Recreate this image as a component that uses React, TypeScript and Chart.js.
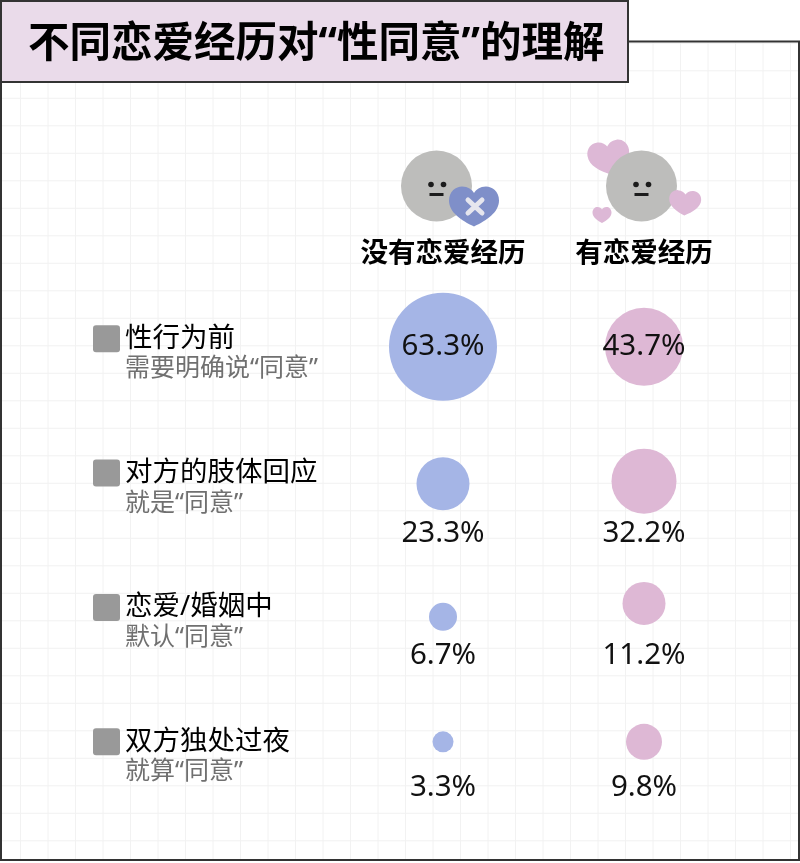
import React, { useEffect, useRef } from "react";
import { Chart, registerables } from "chart.js";

Chart.register(...registerables);

const titleText = "不同恋爱经历对“性同意”的理解";
const groups = ["没有恋爱经历", "有恋爱经历"];
const rowLabels = ["性行为前", "对方的肢体回应", "恋爱/婚姻中", "双方独处过夜"];
const rowSubLabels = ["需要明确说“同意”", "就是“同意”", "默认“同意”", "就算“同意”"];
const noExperience = [63.3, 23.3, 6.7, 3.3];
const hasExperience = [43.7, 32.2, 11.2, 9.8];
// bubble sizes (third bubble dimension)
const noExperienceR = [54, 26.5, 14, 10.5];
const hasExperienceR = [39, 32.5, 21.5, 18];
// small row-relative vertical nudges
const noExperienceNudge = [0.06, 0.08, 0.07, 0];
const hasExperienceNudge = [0.06, 0.06, -0.03, 0];

const CJK = '"Noto Sans CJK SC", sans-serif';
const LATIN_CJK = '"Noto Sans", "Noto Sans CJK SC", sans-serif';
const valueDrop = [8, 60.5, 48.5, 45.5];

function heart(ctx: CanvasRenderingContext2D, x: number, y: number, w: number, h: number, rot = 0) {
  ctx.save();
  ctx.translate(x, y);
  ctx.rotate(rot);
  ctx.scale(w / 100, h / 100);
  ctx.beginPath();
  ctx.moveTo(0, 50);
  ctx.bezierCurveTo(-25, 35, -50, 15, -50, -15);
  ctx.bezierCurveTo(-50, -38, -36, -50, -24, -50);
  ctx.bezierCurveTo(-12, -50, -4, -42, 0, -34);
  ctx.bezierCurveTo(4, -42, 12, -50, 24, -50);
  ctx.bezierCurveTo(36, -50, 50, -38, 50, -15);
  ctx.bezierCurveTo(50, 15, 25, 35, 0, 50);
  ctx.closePath();
  ctx.fill();
  ctx.restore();
}

function face(ctx: CanvasRenderingContext2D, x: number, y: number) {
  ctx.fillStyle = "#BDBDBB";
  ctx.beginPath();
  ctx.arc(x, y, 35.5, 0, Math.PI * 2);
  ctx.fill();
  ctx.fillStyle = "#1c1c1c";
  for (const dx of [-5.5, 7]) {
    ctx.beginPath();
    ctx.arc(x + dx, y - 1.5, 2.8, 0, Math.PI * 2);
    ctx.fill();
  }
  ctx.fillRect(x - 7, y + 7, 14, 3);
}

const decorPlugin = {
  id: "decor",
  beforeDraw(chart: any) {
    const ctx: CanvasRenderingContext2D = chart.ctx;
    ctx.save();
    ctx.fillStyle = "#ffffff";
    ctx.fillRect(0, 0, 800, 863);
    ctx.strokeStyle = "#F2F2F2";
    ctx.lineWidth = 1;
    ctx.beginPath();
    for (let x = 20.5; x < 800; x += 27.5) {
      ctx.moveTo(x, 42);
      ctx.lineTo(x, 859);
    }
    for (let y = 43.3; y < 860; y += 27.5) {
      ctx.moveTo(2, y);
      ctx.lineTo(799, y);
    }
    ctx.stroke();
    ctx.strokeStyle = "#333333";
    ctx.lineWidth = 2;
    ctx.strokeRect(1, 41.5, 798, 818.5);
    ctx.fillStyle = "#EADBEA";
    ctx.fillRect(1, 1, 627, 81);
    ctx.strokeRect(1, 1, 627, 81);
    ctx.fillStyle = "#000000";
    ctx.font = `bold 41.5px ${LATIN_CJK}`;
    ctx.textAlign = "left";
    ctx.textBaseline = "middle";
    ctx.fillText(titleText, 28, 45);

    ctx.fillStyle = "#DDB8D6";
    heart(ctx, 609, 158, 42, 34, -0.15);
    heart(ctx, 602, 215, 19, 16, 0);
    face(ctx, 436.5, 186);
    face(ctx, 641.5, 186);
    ctx.fillStyle = "#DDB8D6";
    heart(ctx, 685, 203, 32, 25, 0.05);
    ctx.fillStyle = "#7F8FC9";
    heart(ctx, 474, 206.5, 50, 40, 0);
    ctx.strokeStyle = "#E6E6EE";
    ctx.lineWidth = 5;
    ctx.lineCap = "round";
    ctx.beginPath();
    ctx.moveTo(468, 200);
    ctx.lineTo(482, 213);
    ctx.moveTo(482, 200);
    ctx.lineTo(468, 213);
    ctx.stroke();
    ctx.restore();
  },
  afterDatasetsDraw(chart: any) {
    const ctx: CanvasRenderingContext2D = chart.ctx;
    const yScale = chart.scales.y;
    ctx.save();
    rowLabels.forEach((_, i) => {
      const rowY = yScale.getPixelForValue(i);
      ctx.fillStyle = "#999999";
      ctx.beginPath();
      ctx.roundRect(93, rowY - 13.5, 27, 27, 3);
      ctx.fill();
      ctx.fillStyle = "#707070";
      ctx.font = `25px ${LATIN_CJK}`;
      ctx.textAlign = "left";
      ctx.textBaseline = "middle";
      ctx.fillText(rowSubLabels[i], 125, rowY + 30.5);
    });
    chart.data.datasets.forEach((ds: any, d: number) => {
      const meta = chart.getDatasetMeta(d);
      meta.data.forEach((pt: any, i: number) => {
        ctx.fillStyle = "#111111";
        ctx.font = '29.5px "Noto Sans", sans-serif';
        ctx.textAlign = "center";
        ctx.textBaseline = "middle";
        ctx.fillText(`${ds.values[i]}%`, pt.x, yScale.getPixelForValue(i) + valueDrop[i]);
      });
    });
    ctx.restore();
  },
};

export default function App() {
  const ref = useRef<HTMLCanvasElement>(null);
  useEffect(() => {
    document.body.style.margin = "0";
    const chart = new Chart(ref.current!, {
      type: "bubble",
      data: {
        labels: groups,
        datasets: [
          {
            label: groups[0],
            values: noExperience,
            data: noExperience.map((_, i) => ({ x: groups[0], y: i + noExperienceNudge[i], r: noExperienceR[i] })),
            backgroundColor: "#A5B5E6",
            borderWidth: 0,
            clip: false,
          },
          {
            label: groups[1],
            values: hasExperience,
            data: hasExperience.map((_, i) => ({ x: groups[1], y: i + hasExperienceNudge[i], r: hasExperienceR[i] })),
            backgroundColor: "#DEB8D5",
            borderWidth: 0,
            clip: false,
          },
        ] as any,
      },
      options: {
        animation: false,
        responsive: false,
        maintainAspectRatio: false,
        layout: { padding: { left: 125, right: 55.5, top: 221.5, bottom: 51.5 } },
        plugins: { legend: { display: false }, tooltip: { enabled: false } },
        scales: {
          x: {
            type: "category",
            position: "top",
            offset: true,
            grid: { display: false },
            border: { display: false },
            afterFit: (s: any) => { s.height = 50; },
            ticks: { color: "#000000", padding: -5, maxRotation: 0, autoSkip: false, font: { family: CJK, size: 27.5, weight: "bold" } },
          },
          y: {
            type: "linear",
            reverse: true,
            min: -0.5,
            max: 3.5,
            grid: { display: false },
            border: { display: false },
            afterFit: (s: any) => { s.width = 217.5; },
            afterBuildTicks: (s: any) => { s.ticks = rowLabels.map((_, i) => ({ value: i })); },
            ticks: {
              color: "#000000",
              crossAlign: "far",
              font: { family: LATIN_CJK, size: 27.5 },
              callback: (v: any) => rowLabels[v] ?? "",
            },
          },
        },
      } as any,
      plugins: [decorPlugin],
    });
    return () => chart.destroy();
  }, []);
  return <canvas ref={ref} width={800} height={863} style={{ display: "block" }} />;
}
